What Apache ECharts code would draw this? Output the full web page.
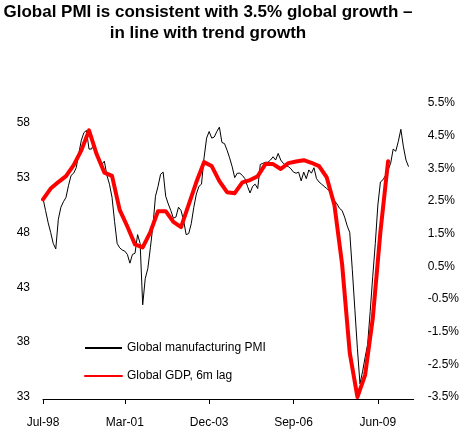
<!DOCTYPE html>
<html>
<head>
<meta charset="utf-8">
<script src="https://cdn.jsdelivr.net/npm/echarts@6/dist/echarts.min.js"></script>
<style>
html,body{margin:0;padding:0;background:#fff;}
#chart{width:462px;height:438px;}
</style>
</head>
<body>
<div id="chart"></div>
<script>
// ---- Data ----
const titleText = 'Global PMI is consistent with 3.5% global growth \u2013\nin line with trend growth';
const seriesNames = ['Global manufacturing PMI', 'Global GDP, 6m lag'];
const startMonth = { year: 1998, month: 6 }; // Jul-98 (0-based month)
const monthCount = 146;                      // Jul-98 .. Aug-10
const xTickLabels = ['Jul-98', 'Mar-01', 'Dec-03', 'Sep-06', 'Jun-09'];

// Global manufacturing PMI, monthly from Jul-98
const pmi = [
  51.1, 50.0, 48.9, 48.0, 47.0, 46.5, 49.2, 50.3, 50.8, 51.2, 52.3, 53.2,
  53.4, 53.9, 55.2, 56.4, 57.1, 57.3, 55.6, 55.6, 56.2, 55.1, 54.4, 54.2,
  54.5, 53.2, 52.4, 51.2, 49.0, 47.0, 46.6, 46.4, 46.3, 46.0, 45.2, 46.0,
  46.1, 47.8, 47.0, 41.4, 43.8, 44.7, 46.6, 48.6, 51.3, 52.2, 53.3, 53.5,
  51.3, 50.6, 50.0, 49.3, 49.4, 50.3, 50.0, 49.1, 47.8, 47.9, 48.8, 50.3,
  51.5, 52.2, 52.4, 54.8, 56.6, 57.2, 56.6, 56.7, 57.2, 57.6, 56.2, 56.1,
  55.5, 54.8, 54.0, 53.0, 53.4, 53.4, 53.2, 52.9, 52.2, 51.6, 52.2, 52.4,
  52.0, 54.2, 54.3, 54.4, 54.4, 54.6, 54.9, 54.6, 55.2, 54.6, 54.3, 54.1,
  54.0, 53.8, 53.5, 53.4, 53.5, 52.7, 53.5, 52.9, 53.7, 53.4, 53.9, 52.9,
  52.6, 52.4, 52.2, 52.0, 51.8, 51.5, 50.9, 50.6, 50.2, 50.0, 49.4, 48.6,
  48.0, 44.6, 41.0, 37.4, 34.2, 35.3, 36.6, 37.8, 40.8, 44.0, 47.0, 50.5,
  52.6, 52.8, 53.2, 53.7, 54.3, 55.6, 55.4, 56.3, 57.4, 55.8, 54.6, 54.0
];

// Global GDP growth (%), 6m lag, quarterly points starting Jul-98
const gdpStep = 3;
const gdp = [
  2.55, 2.88, 3.08, 3.26, 3.60, 4.05, 4.66, 3.93, 3.37, 3.27, 2.23, 1.72,
  1.17, 1.08, 1.55, 2.19, 2.19, 1.86, 1.70, 2.39, 3.08, 3.69, 3.57, 3.11,
  2.77, 2.74, 3.07, 3.14, 3.26, 3.63, 3.63, 3.48, 3.66, 3.71, 3.75, 3.67,
  3.57, 3.22, 2.38, 0.57, -2.15, -3.50, -2.83, -1.10, 1.56, 3.72
];

// ---- Build ----
const monNames = ['Jan','Feb','Mar','Apr','May','Jun','Jul','Aug','Sep','Oct','Nov','Dec'];
const categories = [];
for (let i = 0; i < monthCount; i++) {
  const m = startMonth.month + i;
  const y = startMonth.year + Math.floor(m / 12);
  categories.push(monNames[m % 12] + '-' + String(y % 100).padStart(2, '0'));
}
const gdpMonthly = new Array(monthCount).fill(null);
gdp.forEach((v, k) => { gdpMonthly[k * gdpStep] = v; });

const FONT = "'Liberation Sans', Arial, sans-serif";
const showTick = (idx, val) => xTickLabels.indexOf(val) !== -1;

const chart = echarts.init(document.getElementById('chart'), null, { renderer: 'canvas' });
chart.setOption({
  animation: false,
  backgroundColor: '#ffffff',
  textStyle: { fontFamily: FONT },
  title: {
    text: titleText,
    left: 208,
    top: 2,
    padding: 0,
    textAlign: 'center',
    textVerticalAlign: 'top',
    textStyle: { fontFamily: FONT, fontSize: 17, fontWeight: 'bold', lineHeight: 21, color: '#000' }
  },
  legend: {
    orient: 'vertical',
    left: 84,
    top: 342,
    padding: 0,
    itemWidth: 37,
    itemHeight: 14,
    itemGap: 16,
    itemStyle: { opacity: 0, borderWidth: 0 },
    textStyle: { fontFamily: FONT, fontSize: 12, color: '#000' },
    data: seriesNames
  },
  grid: { left: 43, right: 48, top: 103, bottom: 41, containLabel: false },
  xAxis: {
    type: 'category',
    data: categories,
    boundaryGap: false,
    offset: 2,
    axisLine: { show: true, onZero: false, lineStyle: { color: '#000', width: 1 } },
    axisTick: { show: true, interval: showTick, length: 5, lineStyle: { color: '#000' } },
    axisLabel: { interval: showTick, color: '#000', fontSize: 12, fontFamily: FONT, margin: 18 },
    splitLine: { show: false }
  },
  yAxis: [
    {
      type: 'value', position: 'left', min: 33, max: 59.8, interval: 5,
      axisLine: { show: false }, axisTick: { show: false }, splitLine: { show: false },
      axisLabel: { color: '#000', fontSize: 12, fontFamily: FONT, margin: 13, showMaxLabel: false }
    },
    {
      type: 'value', position: 'right', min: -3.5, max: 5.5, interval: 1,
      axisLine: { show: false }, axisTick: { show: false }, splitLine: { show: false },
      axisLabel: {
        color: '#000', fontSize: 12, fontFamily: FONT, margin: 14,
        formatter: v => v.toFixed(1) + '%'
      }
    }
  ],
  series: [
    {
      name: seriesNames[0], type: 'line', yAxisIndex: 0, data: pmi,
      symbol: 'none', color: '#000',
      lineStyle: { color: '#000', width: 1 }
    },
    {
      name: seriesNames[1], type: 'line', yAxisIndex: 1, data: gdpMonthly,
      connectNulls: true, symbol: 'none', color: '#ff0000',
      lineStyle: { color: '#ff0000', width: 4, cap: 'round', join: 'round' }
    }
  ]
});
</script>
</body>
</html>
